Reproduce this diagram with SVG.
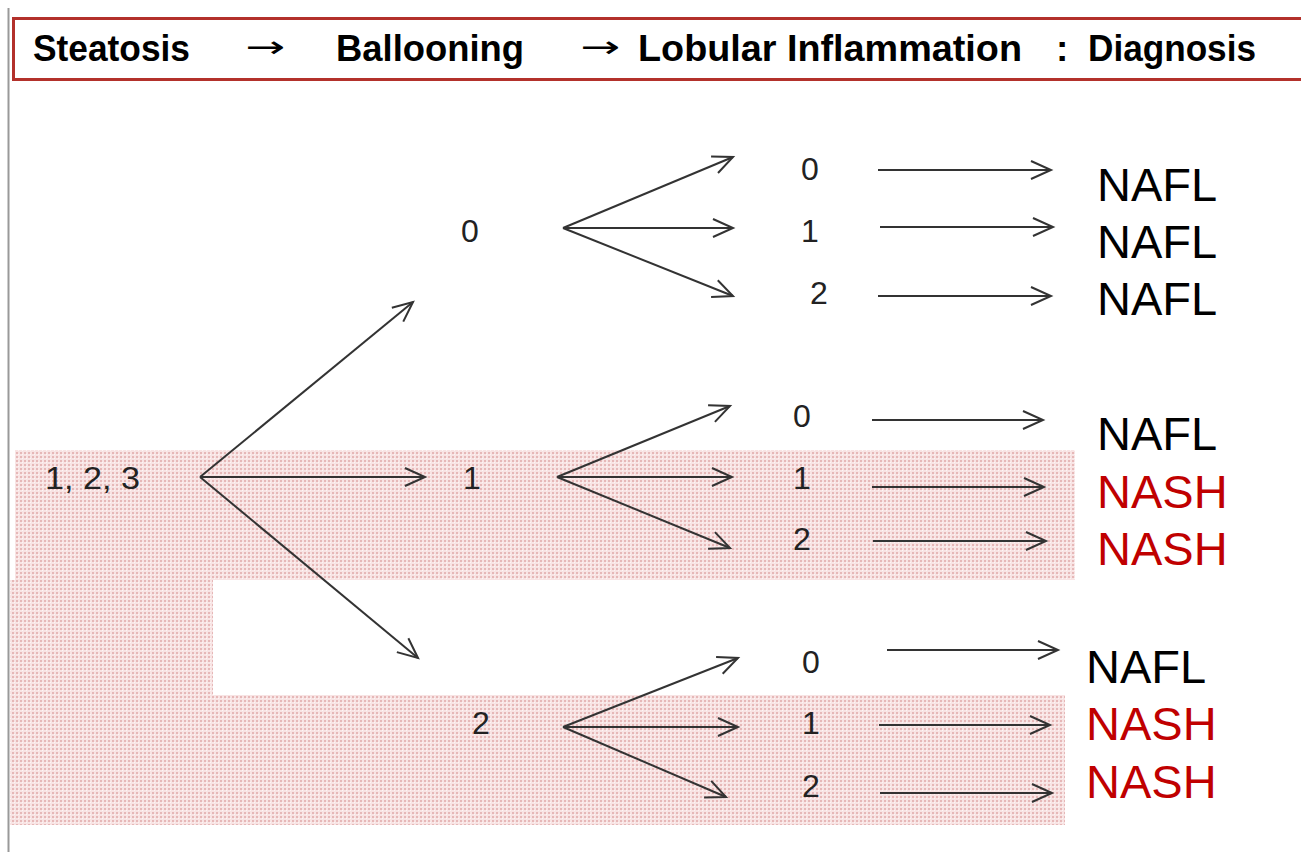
<svg xmlns="http://www.w3.org/2000/svg" width="1301" height="852" viewBox="0 0 1301 852">
<defs>
<pattern id="dots" width="4" height="4" patternUnits="userSpaceOnUse">
<rect width="4" height="4" fill="#f8e4e4"/>
<rect x="0" y="0" width="2" height="2" fill="#e6b8b8"/>
<rect x="2" y="2" width="1" height="1" fill="#fdf5f5"/>
</pattern>
<marker id="ah" markerWidth="26" markerHeight="24" refX="23" refY="12" orient="auto" markerUnits="userSpaceOnUse">
<path d="M3,3 L23,12 L3,21" fill="none" stroke="#333" stroke-width="2"/>
</marker>
<style>
.hd{font-family:"Liberation Sans",Arial,sans-serif;font-weight:bold;font-size:37px;fill:#000}
.ar{font-family:"DejaVu Sans",sans-serif;font-size:30px;fill:#000}
.num{font-family:"Liberation Sans",Arial,sans-serif;font-size:32px;fill:#222}
.dx{font-family:"Liberation Sans",Arial,sans-serif;font-size:47px}
.nafl{fill:#000}
.nash{fill:#c00000}
.c{stroke:#333;stroke-width:2;fill:none;marker-end:url(#ah)}
</style>
</defs>
<rect width="1301" height="852" fill="#fff"/>
<line x1="8.5" y1="8" x2="8.5" y2="852" stroke="#999" stroke-width="2"/>
<g id="shading">
<rect x="15" y="450" width="1060" height="130" fill="url(#dots)"/>
<rect x="10" y="580" width="203" height="115" fill="url(#dots)"/>
<rect x="10" y="695" width="1055" height="130" fill="url(#dots)"/>
</g>
<g id="header">
<rect x="13.5" y="18.5" width="1300" height="61" fill="#fff" stroke="#b3312b" stroke-width="3"/>
<text class="hd" x="33" y="61" textLength="157" lengthAdjust="spacingAndGlyphs">Steatosis</text>
<text class="ar" x="245" y="57" textLength="40" lengthAdjust="spacingAndGlyphs">→</text>
<text class="hd" x="336" y="61" textLength="188" lengthAdjust="spacingAndGlyphs">Ballooning</text>
<text class="ar" x="580" y="57" textLength="40" lengthAdjust="spacingAndGlyphs">→</text>
<text class="hd" x="638" y="61" textLength="384" lengthAdjust="spacingAndGlyphs">Lobular Inflammation</text>
<text class="hd" x="1056" y="61">:</text>
<text class="hd" x="1088" y="61" textLength="168" lengthAdjust="spacingAndGlyphs">Diagnosis</text>
</g>
<g id="connectors">
<line class="c" x1="200" y1="477" x2="413" y2="302"/>
<line class="c" x1="200" y1="477" x2="425" y2="477"/>
<line class="c" x1="200" y1="477" x2="418" y2="658"/>
<line class="c" x1="563" y1="228" x2="733" y2="157"/>
<line class="c" x1="563" y1="228" x2="733" y2="228"/>
<line class="c" x1="563" y1="228" x2="733" y2="296"/>
<line class="c" x1="557" y1="477" x2="730" y2="406"/>
<line class="c" x1="557" y1="477" x2="732" y2="477"/>
<line class="c" x1="557" y1="477" x2="730" y2="548"/>
<line class="c" x1="563" y1="727" x2="738" y2="658"/>
<line class="c" x1="563" y1="727" x2="738" y2="727"/>
<line class="c" x1="563" y1="727" x2="726" y2="797"/>
<line class="c" x1="878" y1="170" x2="1051" y2="170"/>
<line class="c" x1="880" y1="227" x2="1053" y2="227"/>
<line class="c" x1="878" y1="296" x2="1051" y2="296"/>
<line class="c" x1="872" y1="420" x2="1043" y2="420"/>
<line class="c" x1="872" y1="487" x2="1044" y2="487"/>
<line class="c" x1="873" y1="541" x2="1046" y2="541"/>
<line class="c" x1="887" y1="650" x2="1058" y2="650"/>
<line class="c" x1="879" y1="725" x2="1050" y2="725"/>
<line class="c" x1="880" y1="793" x2="1052" y2="793"/>
</g>
<g id="root"><text class="num" x="45" y="489" textLength="95" lengthAdjust="spacingAndGlyphs">1, 2, 3</text></g>
<g id="b0"><text class="num" x="461" y="242">0</text></g>
<g id="b1"><text class="num" x="463" y="489">1</text></g>
<g id="b2"><text class="num" x="472" y="734">2</text></g>
<g id="b0-l0"><text class="num" x="801" y="180">0</text></g>
<g id="b0-l1"><text class="num" x="801" y="242">1</text></g>
<g id="b0-l2"><text class="num" x="810" y="304">2</text></g>
<g id="b1-l0"><text class="num" x="793" y="427">0</text></g>
<g id="b1-l1"><text class="num" x="793" y="489">1</text></g>
<g id="b1-l2"><text class="num" x="793" y="550">2</text></g>
<g id="b2-l0"><text class="num" x="802" y="673">0</text></g>
<g id="b2-l1"><text class="num" x="802" y="734">1</text></g>
<g id="b2-l2"><text class="num" x="802" y="797">2</text></g>
<g id="d1"><text class="dx nafl" x="1097" y="201">NAFL</text></g>
<g id="d2"><text class="dx nafl" x="1097" y="258">NAFL</text></g>
<g id="d3"><text class="dx nafl" x="1097" y="315">NAFL</text></g>
<g id="d4"><text class="dx nafl" x="1097" y="450">NAFL</text></g>
<g id="d5"><text class="dx nash" x="1097" y="508">NASH</text></g>
<g id="d6"><text class="dx nash" x="1097" y="565">NASH</text></g>
<g id="d7"><text class="dx nafl" x="1086" y="683">NAFL</text></g>
<g id="d8"><text class="dx nash" x="1086" y="740">NASH</text></g>
<g id="d9"><text class="dx nash" x="1086" y="798">NASH</text></g>
</svg>
